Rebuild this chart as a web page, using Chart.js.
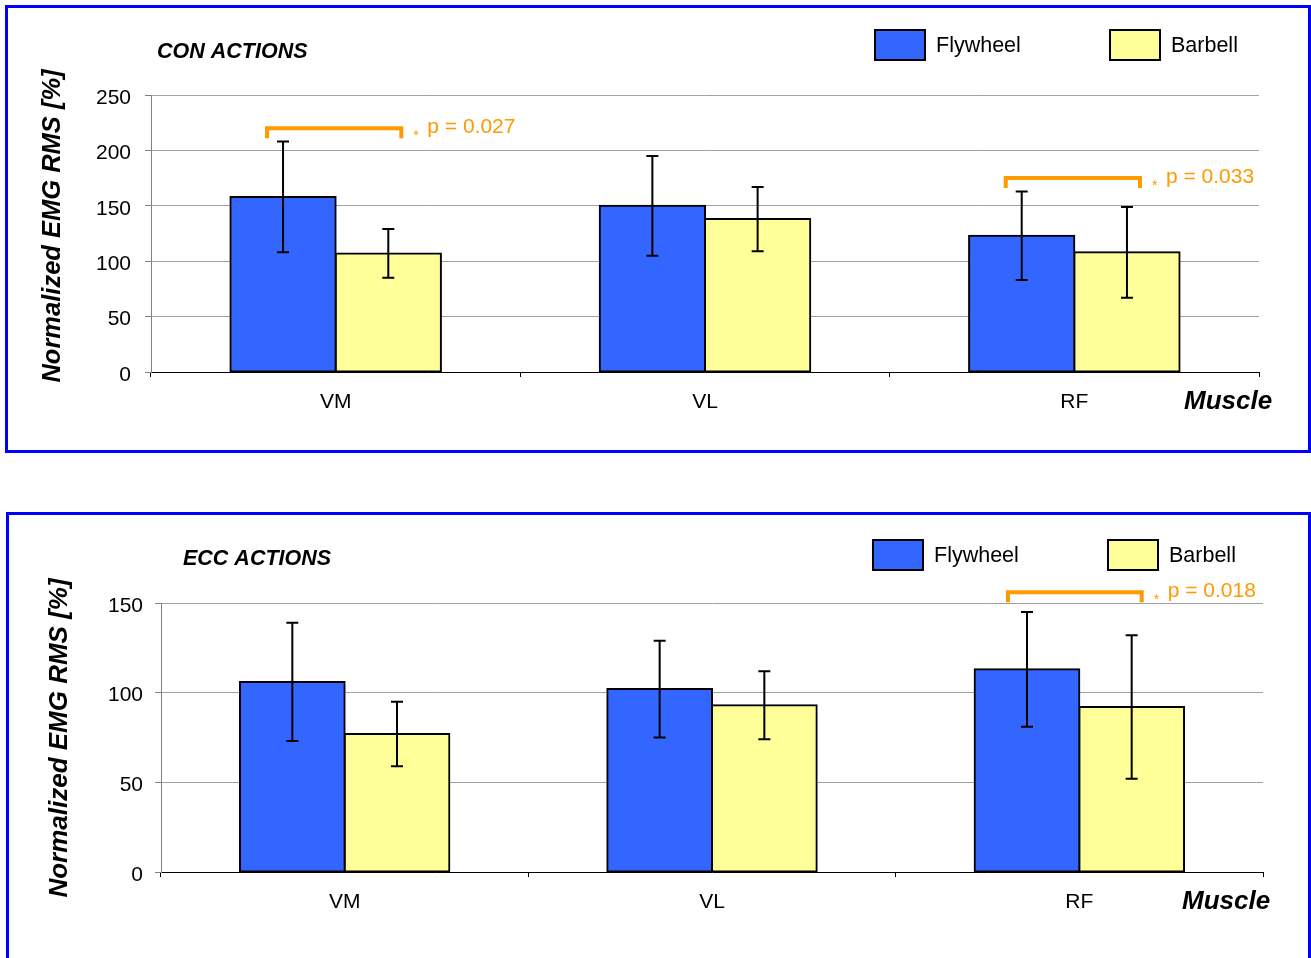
<!DOCTYPE html>
<html lang="en">
<head>
  <meta charset="UTF-8">
  <title>Normalized EMG RMS</title>
  <script src="https://cdn.jsdelivr.net/npm/chart.js"></script>
  <style>
    body {
      margin: 0;
      padding: 0;
      background: #fff;
      width: 1311px;
      height: 958px;
      overflow: hidden;
      position: relative;
      font-family: Arial, "Liberation Sans", sans-serif;
    }
    canvas {
      position: absolute;
      left: 0;
    }
    .frame {
      position: absolute;
      box-sizing: border-box;
      border: 3px solid #0000ff;
      pointer-events: none;
    }
  </style>
</head>
<body>
  <canvas id="conChart" width="1311" height="455" style="top:0"></canvas>
  <canvas id="eccChart" width="1311" height="458" style="top:500px"></canvas>
  <div class="frame" style="left:5px;top:5px;width:1306px;height:448px"></div>
  <div class="frame" style="left:6px;top:512px;width:1305px;height:470px"></div>

  <script>
    // data
    const muscles = ["VM", "VL", "RF"];
    const seriesNames = ["Flywheel", "Barbell"];
    const seriesColors = ["#3366ff", "#ffff99"];

    const conFlywheel = [158, 150, 123];
    const conFlywheelSD = [50, 45, 40];
    const conBarbell = [107, 138, 108];
    const conBarbellSD = [22, 29, 41];

    const eccFlywheel = [106, 102, 113];
    const eccFlywheelSD = [33, 27, 32];
    const eccBarbell = [77, 93, 92];
    const eccBarbellSD = [18, 19, 40];

    const conYTicks = [0, 50, 100, 150, 200, 250];
    const eccYTicks = [0, 50, 100, 150];

    const conSig = [
      { muscle: "VM", at: 220, p: "p = 0.027" },
      { muscle: "RF", at: 175, p: "p = 0.033" },
    ];
    const eccSig = [
      { muscle: "RF", at: 156, p: "p = 0.018" },
    ];

    const errorBars = {
      id: "errorBars",
      afterDatasetsDraw(chart) {
        const ctx = chart.ctx;
        const y = chart.scales.y;
        ctx.save();
        ctx.strokeStyle = "#000";
        ctx.lineWidth = 2;
        chart.data.datasets.forEach((ds, i) => {
          chart.getDatasetMeta(i).data.forEach((bar, j) => {
            const top = y.getPixelForValue(ds.data[j] + ds.sd[j]);
            const bot = y.getPixelForValue(ds.data[j] - ds.sd[j]);
            ctx.beginPath();
            ctx.moveTo(bar.x, top);
            ctx.lineTo(bar.x, bot);
            ctx.moveTo(bar.x - 6, top);
            ctx.lineTo(bar.x + 6, top);
            ctx.moveTo(bar.x - 6, bot);
            ctx.lineTo(bar.x + 6, bot);
            ctx.stroke();
          });
        });
        ctx.restore();
      },
    };

    const decor = {
      id: "decor",
      afterDraw(chart, args, o) {
        const ctx = chart.ctx;
        const y = chart.scales.y;
        ctx.save();
        ctx.fillStyle = "#000";
        ctx.textAlign = "left";
        ctx.textBaseline = "alphabetic";

        ctx.font = "italic bold 21.5px Arial";
        ctx.fillText(o.title, o.titleX, o.titleY);

        ctx.font = "italic bold 26px Arial";
        ctx.fillText("Muscle", o.muscleX, o.muscleY);

        ctx.save();
        ctx.translate(o.yTitleX, o.yTitleY);
        ctx.rotate(-Math.PI / 2);
        ctx.textAlign = "center";
        ctx.font = "italic bold " + o.yTitleSize + "px Arial";
        ctx.fillText("Normalized EMG RMS [%]", 0, 0);
        ctx.restore();

        // legend
        ctx.font = "21.5px Arial";
        chart.data.datasets.forEach((ds, i) => {
          const lx = o.legendX[i];
          ctx.fillStyle = ds.backgroundColor;
          ctx.fillRect(lx, o.legendY, 52, 32);
          ctx.strokeStyle = "#000";
          ctx.lineWidth = 2;
          ctx.strokeRect(lx + 1, o.legendY + 1, 50, 30);
          ctx.fillStyle = "#000";
          ctx.fillText(ds.label, lx + 62, o.legendY + 23);
        });

        // significance brackets
        o.sig.forEach((s) => {
          const idx = chart.data.labels.indexOf(s.muscle);
          const x0 = chart.getDatasetMeta(0).data[idx].x - o.bracketPad[0];
          const x1 = chart.getDatasetMeta(1).data[idx].x + o.bracketPad[1];
          const yy = y.getPixelForValue(s.at);
          ctx.strokeStyle = "#ff9900";
          ctx.fillStyle = "#ff9900";
          ctx.lineWidth = 4;
          ctx.beginPath();
          ctx.moveTo(x0, yy + 10);
          ctx.lineTo(x0, yy);
          ctx.lineTo(x1, yy);
          ctx.lineTo(x1, yy + 10);
          ctx.stroke();
          ctx.font = "14px Arial";
          ctx.fillText("*", x1 + 12, yy + 12);
          ctx.font = "21px Arial";
          ctx.fillText(s.p, x1 + 26, yy + 5);
        });
        ctx.restore();
      },
    };

    const makeChart = (id, fly, flySD, bar, barSD, yTicks, geo, deco) => {
      const ctx = document.getElementById(id).getContext("2d");
      return new Chart(ctx, {
        type: "bar",
        data: {
          labels: muscles,
          datasets: [
            { label: seriesNames[0], data: fly, sd: flySD, backgroundColor: seriesColors[0] },
            { label: seriesNames[1], data: bar, sd: barSD, backgroundColor: seriesColors[1] },
          ],
        },
        options: {
          responsive: false,
          animation: false,
          devicePixelRatio: 1,
          layout: { padding: { left: 0, top: geo.top, right: geo.right, bottom: 0 } },
          datasets: {
            bar: {
              borderColor: "#000",
              borderWidth: 2,
              borderSkipped: false,
              inflateAmount: 1,
              categoryPercentage: 0.57,
              barPercentage: 1,
            },
          },
          plugins: {
            legend: { display: false },
            tooltip: { enabled: false },
            decor: deco,
          },
          scales: {
            x: {
              afterFit: (s) => { s.height = geo.xHeight; },
              grid: { offset: true, drawOnChartArea: false, tickLength: 5, color: "#000" },
              border: { color: "#000", width: 1 },
              ticks: { color: "#000", font: { family: "Arial", size: 21 }, padding: 13 },
            },
            y: {
              min: yTicks[0],
              max: yTicks[yTicks.length - 1],
              afterFit: (s) => { s.width = geo.left; },
              grid: { color: "#a0a0a0", tickColor: "#808080", tickLength: 6 },
              border: { color: "#808080", width: 1 },
              ticks: {
                stepSize: yTicks[1] - yTicks[0],
                color: "#000",
                font: { family: "Arial", size: 21 },
                padding: geo.tickPad,
                labelOffset: 3,
              },
            },
          },
        },
        plugins: [errorBars, decor],
      });
    };

    makeChart("conChart", conFlywheel, conFlywheelSD, conBarbell, conBarbellSD, conYTicks,
      { top: 95, right: 52, left: 151, xHeight: 83, tickPad: 14 },
      {
        title: "CON ACTIONS", titleX: 157, titleY: 58,
        muscleX: 1184, muscleY: 409,
        yTitleX: 60, yTitleY: 226, yTitleSize: 25.5,
        legendX: [874, 1109], legendY: 29,
        bracketPad: [16, 13],
        sig: conSig,
      });

    makeChart("eccChart", eccFlywheel, eccFlywheelSD, eccBarbell, eccBarbellSD, eccYTicks,
      { top: 103, right: 48, left: 161, xHeight: 86, tickPad: 12 },
      {
        title: "ECC ACTIONS", titleX: 183, titleY: 65,
        muscleX: 1182, muscleY: 409,
        yTitleX: 67, yTitleY: 238, yTitleSize: 26,
        legendX: [872, 1107], legendY: 39,
        bracketPad: [19, 10],
        sig: eccSig,
      });
  </script>
</body>
</html>
